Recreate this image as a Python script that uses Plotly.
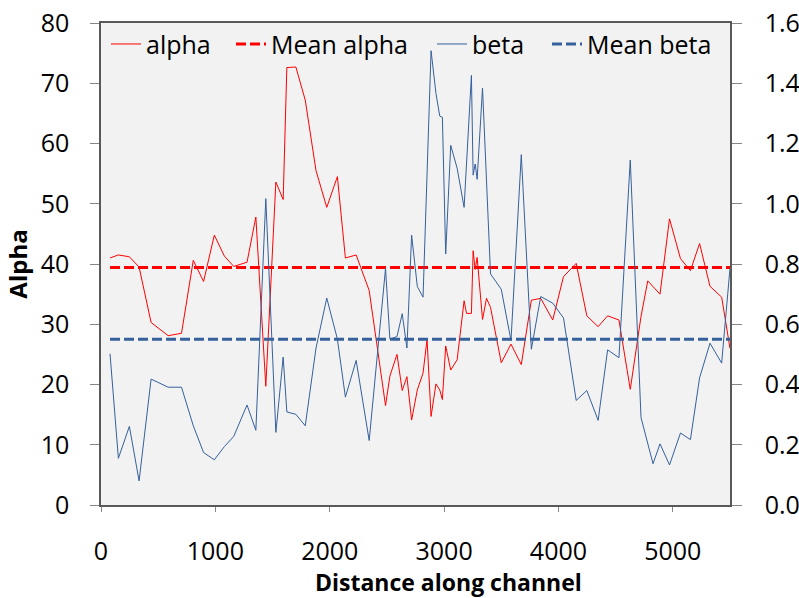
import plotly.graph_objects as go

# Sampled positions along the channel and the two parameters
x_alpha = [79, 152, 248, 333, 438, 587, 704, 807, 897, 991, 1079, 1161, 1277, 1354,
           1441, 1529, 1593, 1625, 1704, 1786, 1880, 1974, 2067, 2137, 2231, 2345,
           2488, 2526, 2588, 2634, 2675, 2716, 2766, 2816, 2851, 2886, 2929, 2962,
           2985, 3014, 3058, 3114, 3175, 3196, 3239, 3254, 3272, 3289, 3336, 3371,
           3406, 3500, 3585, 3675, 3763, 3845, 3950, 4044, 4155, 4248, 4347, 4430,
           4529, 4628, 4722, 4781, 4888, 4971, 5067, 5154, 5234, 5325, 5427, 5500]
alpha = [41.0, 41.5, 41.2, 39.5, 30.3, 28.1, 28.5, 40.6, 37.1, 44.8, 41.3, 39.6, 40.3, 47.8,
         19.7, 53.6, 50.7, 72.6, 72.7, 67.2, 55.5, 49.4, 54.5, 41.0, 41.5, 35.6,
         16.5, 21.4, 25.0, 19.0, 21.3, 14.1, 19.1, 21.9, 27.5, 14.7, 20.1, 19.1,
         17.5, 26.4, 22.4, 24.1, 33.9, 31.8, 31.8, 42.2, 39.1, 41.1, 30.8, 34.3,
         32.8, 23.6, 26.7, 23.3, 34.0, 34.3, 30.7, 37.9, 40.1, 31.4, 29.6, 31.4,
         30.7, 19.2, 31.3, 37.2, 35.0, 47.5, 40.9, 38.9, 43.4, 36.3, 34.5, 26.0]

x_beta = [79, 152, 248, 333, 438, 587, 704, 807, 897, 991, 1079, 1161, 1277, 1354,
          1441, 1529, 1593, 1625, 1704, 1786, 1880, 1974, 2067, 2137, 2231, 2345,
          2488, 2526, 2588, 2634, 2675, 2716, 2766, 2816, 2886, 2929, 2962, 2985,
          3014, 3058, 3114, 3175, 3239, 3254, 3272, 3289, 3336, 3406, 3500, 3585,
          3675, 3763, 3845, 3950, 4044, 4155, 4248, 4347, 4430, 4529, 4628, 4722,
          4827, 4888, 4971, 5067, 5154, 5234, 5325, 5427, 5500]
beta = [0.502, 0.155, 0.261, 0.080, 0.418, 0.391, 0.391, 0.263, 0.174, 0.150, 0.194, 0.228, 0.332, 0.248,
        1.017, 0.241, 0.491, 0.309, 0.301, 0.263, 0.521, 0.687, 0.551, 0.358, 0.480, 0.214,
        0.785, 0.551, 0.559, 0.635, 0.521, 0.896, 0.725, 0.690, 1.508, 1.366, 1.291, 1.287,
        0.833, 1.194, 1.118, 0.988, 1.426, 1.095, 1.132, 1.081, 1.384, 0.767, 0.716, 0.546,
        1.163, 0.517, 0.692, 0.670, 0.621, 0.347, 0.380, 0.281, 0.515, 0.489, 1.145, 0.290,
        0.137, 0.203, 0.133, 0.239, 0.217, 0.422, 0.537, 0.471, 0.786]

mean_alpha = 39.4
mean_beta = 0.55
mean_span = [79, 5500]

RED = "#ff0000"
BLUE = "#35609b"
FONT = "Open Sans"
FS = 25

fig = go.Figure()
fig.add_trace(go.Scatter(x=x_alpha, y=alpha, mode="lines", name="alpha",
                         line=dict(color=RED, width=1), legend="legend"))
fig.add_trace(go.Scatter(x=mean_span, y=[mean_alpha, mean_alpha], mode="lines",
                         name="Mean alpha", line=dict(color=RED, width=3, dash="10px,4px"),
                         legend="legend2"))
fig.add_trace(go.Scatter(x=x_beta, y=beta, mode="lines", name="beta", yaxis="y2",
                         line=dict(color=BLUE, width=1), legend="legend3"))
fig.add_trace(go.Scatter(x=mean_span, y=[mean_beta, mean_beta], mode="lines", yaxis="y2",
                         name="Mean beta", line=dict(color=BLUE, width=3, dash="10px,4px"),
                         legend="legend4"))

L, R, T, B = 101.0, 730.0, 23.0, 505.0
W = R - L
H = B - T


def leg(px_start):
    return dict(x=(px_start - 6 - L) / W, xanchor="left", y=0.956, yanchor="middle",
                bgcolor="rgba(0,0,0,0)", font=dict(family=FONT, size=FS, color="#000000"),
                orientation="h")


axis_line = "#595959"
tick_col = "#868686"

fig.update_layout(
    width=799, height=598,
    margin=dict(l=101, r=69, t=23, b=93, autoexpand=False),
    paper_bgcolor="white",
    plot_bgcolor="#f2f2f2",
    font=dict(family=FONT, size=FS, color="#000000"),
    showlegend=True,
    legend=leg(112),
    legend2=leg(237),
    legend3=leg(438),
    legend4=leg(553),
    xaxis=dict(
        range=[0, 5500], tick0=0, dtick=1000, showgrid=False, zeroline=False,
        showline=True, linecolor=axis_line, linewidth=1.5, mirror=True, automargin=False,
        ticks="outside", ticklen=5, tickcolor=tick_col, ticklabelstandoff=18,
        tickfont=dict(family=FONT, size=FS),
    ),
    yaxis=dict(
        range=[0, 80], tick0=0, dtick=10, showgrid=False, zeroline=False,
        showline=True, linecolor=axis_line, linewidth=1.5, automargin=False,
        ticks="outside", ticklen=9, tickcolor=tick_col, ticklabelstandoff=16,
        tickfont=dict(family=FONT, size=FS),
        title=dict(text="<b>Alpha</b>", standoff=6, font=dict(family=FONT, size=24)),
    ),
    yaxis2=dict(
        range=[0, 1.6], tick0=0, dtick=0.2, tickformat=".1f", overlaying="y", side="right",
        showgrid=False, zeroline=False, showline=True, linecolor=axis_line, linewidth=1.5,
        automargin=False,
        ticks="outside", ticklen=10, tickcolor=tick_col, ticklabelstandoff=18,
        tickfont=dict(family=FONT, size=FS),
    ),
)

# x-axis title, centred under the whole chart rather than the plot area
fig.add_annotation(
    text="<b>Distance along channel</b>", xref="paper", yref="paper",
    x=(449 - L) / W, y=(B - 600) / H, xanchor="center", yanchor="bottom",
    showarrow=False, font=dict(family=FONT, size=23, color="#000000"),
)

fig.write_html("out.html")
